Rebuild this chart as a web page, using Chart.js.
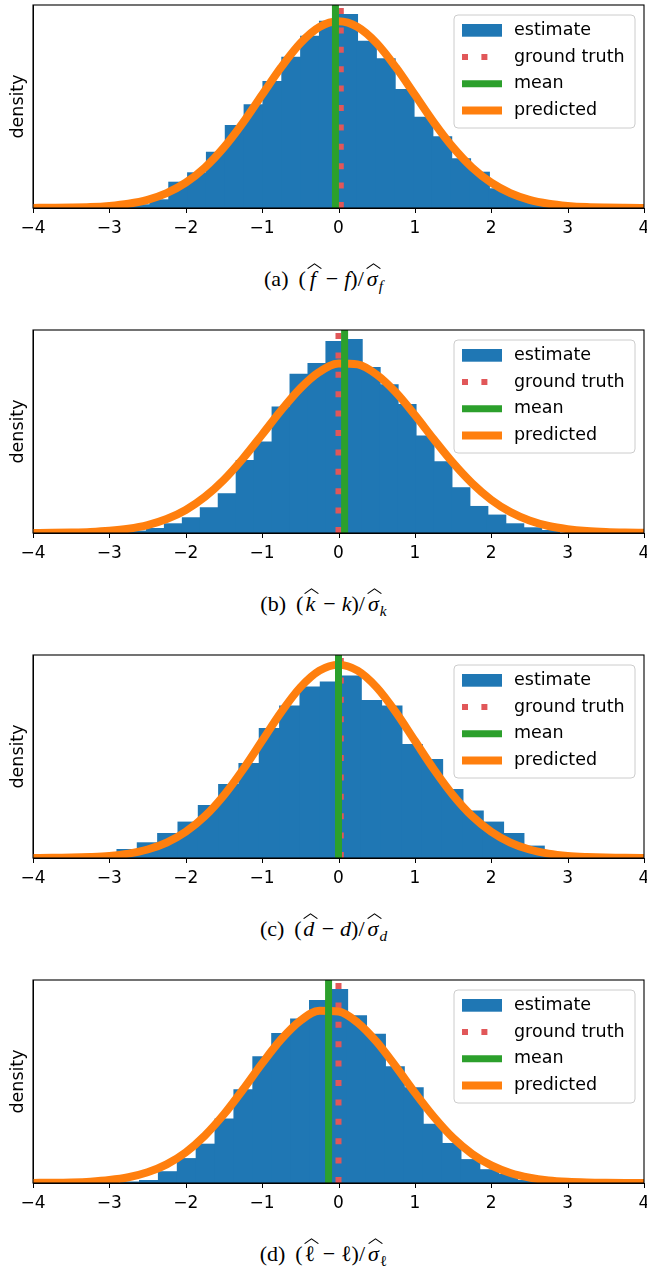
<!DOCTYPE html>
<html>
<head>
<meta charset="utf-8">
<script src="https://cdn.jsdelivr.net/npm/chart.js@4.4.1/dist/chart.umd.min.js"></script>
<style>
  body { margin:0; background:#fff; width:647px; height:1269px; position:relative; overflow:hidden; }
  .panel { position:absolute; left:0; width:647px; height:325px; }
  .panel canvas { position:absolute; left:0; top:0; }
  .cap { position:absolute; left:0; width:647px; top:266px; line-height:26px; text-align:center;
         font-family:'Liberation Serif','Times New Roman',serif; font-size:22px; color:#000; }
  .cap i { font-style:italic; }
  .lab { margin-right:10px; }
  .m { margin:0 6px; }
  .sl { margin-right:3px; }
  .h { position:relative; display:inline-block; }
  .w { width:14px; text-align:center; }
  .h::before { content:''; position:absolute; left:50%; top:-3px; width:15px; height:6px; margin-left:-6px;
               background:url("data:image/svg+xml;utf8,<svg xmlns='http://www.w3.org/2000/svg' width='15' height='6'><path d='M0.6 5.6 L7.5 0.8 L14.4 5.6' fill='none' stroke='black' stroke-width='1.1'/></svg>") no-repeat; }
  sub { font-size:0.7em; line-height:0; vertical-align:-0.3em; margin-left:1px; }
</style>
</head>
<body>
<div class="panel" style="top:0px"><canvas id="cA" width="652" height="240" style="width:652px;height:240px"></canvas>
  <div class="cap"><span class="lab">(a)</span>(<span class="h w"><i>f</i></span><span class="m">−</span><i>f</i>)<span class="sl">/</span><span class="h"><i>σ</i></span><sub><i>f</i></sub></div></div>
<div class="panel" style="top:325px"><canvas id="cB" width="652" height="240" style="width:652px;height:240px"></canvas>
  <div class="cap"><span class="lab">(b)</span>(<span class="h w"><i>k</i></span><span class="m">−</span><i>k</i>)<span class="sl">/</span><span class="h"><i>σ</i></span><sub><i>k</i></sub></div></div>
<div class="panel" style="top:650px"><canvas id="cC" width="652" height="240" style="width:652px;height:240px"></canvas>
  <div class="cap"><span class="lab">(c)</span>(<span class="h w"><i>d</i></span><span class="m">−</span><i>d</i>)<span class="sl">/</span><span class="h"><i>σ</i></span><sub><i>d</i></sub></div></div>
<div class="panel" style="top:975px"><canvas id="cD" width="652" height="240" style="width:652px;height:240px"></canvas>
  <div class="cap"><span class="lab">(d)</span>(<span class="h w">ℓ</span><span class="m">−</span>ℓ)<span class="sl">/</span><span class="h"><i>σ</i></span><sub>ℓ</sub></div></div>

<script>
// shared axis / curve sampling
const xTicks = [-4, -3, -2, -1, 0, 1, 2, 3, 4];
const curveX = [-4, -3.75, -3.5, -3.25, -3, -2.75, -2.5, -2.25, -2, -1.75, -1.5, -1.25, -1, -0.75, -0.5, -0.25, 0,
                0.25, 0.5, 0.75, 1, 1.25, 1.5, 1.75, 2, 2.25, 2.5, 2.75, 3, 3.25, 3.5, 3.75, 4];
const legendLabels = ['estimate', 'ground truth', 'mean', 'predicted'];

// (a) f
const edgesA = [-2.96, -2.713, -2.467, -2.22, -1.973, -1.727, -1.48, -1.233, -0.987, -0.74, -0.493, -0.247, 0,
                0.247, 0.493, 0.74, 0.987, 1.233, 1.48, 1.727, 1.973, 2.22, 2.467, 2.713, 2.96];
const estA = [1, 3, 8, 25.6, 35, 55.6, 82.3, 103, 126.3, 150.6, 171.6, 186.6,
              193.3, 166.6, 149, 118.3, 90.6, 71, 49, 35.6, 19, 11.6, 5, 2.3];
const predA = [0.1, 0.2, 0.4, 0.9, 2.1, 4.3, 8.2, 14.9, 25.3, 40.4, 60.6, 85.4, 113.2, 140.8, 164.7, 180.9, 186.6,
               180.9, 164.7, 140.8, 113.2, 85.4, 60.6, 40.4, 25.3, 14.9, 8.2, 4.3, 2.1, 0.9, 0.4, 0.2, 0.1];
const meanA = -0.04, truthA = 0.03;

// (b) k
const edgesB = [-2.747, -2.512, -2.277, -2.042, -1.807, -1.572, -1.337, -1.102, -0.867, -0.632, -0.397, -0.162, 0.073,
                0.308, 0.543, 0.778, 1.013, 1.248, 1.483, 1.718, 1.953, 2.188, 2.423, 2.658, 2.893];
const estB = [1.7, 4.3, 9, 15, 25, 39, 72.3, 90.7, 125.7, 158.3, 169, 191,
              193, 165, 147.7, 128, 96.7, 71, 45, 26.3, 17.7, 9, 5, 2.3];
const predB = [0.08, 0.2, 0.5, 1.05, 2.2, 4.3, 7.9, 13.9, 23, 36, 53.2, 74.4, 98.2, 122.5, 144.4, 160.8, 169.2,
               168.3, 158.1, 140.4, 117.7, 93.3, 69.9, 49.5, 33.1, 20.9, 12.5, 7, 3.8, 1.9, 0.9, 0.4, 0.17];
const meanB = 0.08, truthB = 0;

// (c) d
const edgesC = [-3.164, -2.898, -2.632, -2.366, -2.099, -1.833, -1.567, -1.301, -1.035, -0.769, -0.502, -0.236, 0.03,
                0.296, 0.562, 0.829, 1.095, 1.361, 1.627, 1.893, 2.159, 2.426, 2.692, 2.958, 3.224];
const estC = [4.3, 8.3, 15, 24.3, 35.7, 52.3, 73.3, 94.3, 129.3, 151.7, 170.7, 175.7,
              181.7, 157.3, 151.7, 113.3, 98.3, 68.3, 46.7, 35.7, 24.3, 11.7, 4.3, 1.7];
const predC = [0.06, 0.2, 0.4, 1.0, 2.1, 4.4, 8.5, 15.4, 26.2, 41.8, 62.8, 88.5, 117.2, 145.9, 170.6, 187.3, 193.3,
               187.3, 170.6, 145.9, 117.2, 88.5, 62.8, 41.8, 26.2, 15.4, 8.5, 4.4, 2.1, 1.0, 0.4, 0.2, 0.06];
const meanC = 0.0, truthC = 0.03;

// (d) l
const edgesD = [-2.85, -2.603, -2.356, -2.108, -1.861, -1.614, -1.367, -1.119, -0.872, -0.625, -0.377, -0.13,
                0.117, 0.365, 0.612, 0.859, 1.107, 1.354, 1.601, 1.848, 2.096, 2.343, 2.59, 2.838];
const estD = [0.8, 2.3, 11, 24, 38.3, 63.3, 92.3, 125, 148, 162.3, 180.7, 191.7,
              165.7, 147.3, 115, 94.3, 58, 39, 23, 13, 8.3, 2.3, 0.8];
const predD = [0.1, 0.25, 0.6, 1.36, 2.9, 5.7, 10.6, 18.5, 30.4, 47, 68.1, 92.7, 118.6, 142.5, 160.9, 170.7, 170,
               159.1, 139.9, 115.5, 89.6, 65.4, 44.7, 28.8, 17.4, 9.9, 5.3, 2.6, 1.24, 0.55, 0.23, 0.1, 0.04];
const meanD = -0.13, truthD = 0;

const BLUE = '#1f77b4', ORANGE = '#ff7f0e', GREEN = '#2ca02c', RED = '#e15759';
const FONT = 'DejaVu Sans';

// axes frame + outward tick marks drawn over the data (matplotlib spines)
const frame = {
  id: 'frame',
  afterDatasetsDraw(chart) {
    const { ctx, chartArea: a } = chart;
    const xs = chart.scales.x;
    ctx.save();
    ctx.strokeStyle = '#000';
    ctx.lineWidth = 1.1;
    ctx.strokeRect(a.left, a.top, a.right - a.left, a.bottom - a.top);
    ctx.lineWidth = 1;
    ctx.beginPath();
    xs.ticks.forEach(t => {
      const px = Math.round(xs.getPixelForValue(t.value)) + 0.5;
      ctx.moveTo(px, a.bottom);
      ctx.lineTo(px, a.bottom + 5);
    });
    ctx.stroke();
    ctx.restore();
  }
};

// legend box in the upper right of the axes
const legendBox = {
  id: 'legendBox',
  afterDraw(chart) {
    const { ctx, chartArea: a } = chart;
    const w = 181, h = 113, r = 4;
    const x0 = a.right - 9 - w, y0 = a.top + 10;
    ctx.save();
    ctx.beginPath();
    ctx.moveTo(x0 + r, y0);
    ctx.arcTo(x0 + w, y0, x0 + w, y0 + h, r);
    ctx.arcTo(x0 + w, y0 + h, x0, y0 + h, r);
    ctx.arcTo(x0, y0 + h, x0, y0, r);
    ctx.arcTo(x0, y0, x0 + w, y0, r);
    ctx.closePath();
    ctx.fillStyle = 'rgba(255,255,255,0.8)';
    ctx.fill();
    ctx.strokeStyle = '#cccccc';
    ctx.lineWidth = 1;
    ctx.stroke();

    legendLabels.forEach((lab, i) => {
      const ds = chart.data.datasets.find(d => d.label === lab);
      const cy = y0 + 15.3 + 26.7 * i;
      if (ds.type === 'bar') {
        ctx.fillStyle = ds.backgroundColor;
        ctx.fillRect(x0 + 8, cy - 6.3, 40, 12.7);
      } else {
        const dashed = !!ds.borderDash;
        ctx.beginPath();
        ctx.setLineDash(ds.borderDash || []);
        ctx.lineDashOffset = 0;
        ctx.lineCap = 'butt';
        ctx.strokeStyle = ds.borderColor;
        ctx.lineWidth = ds.borderWidth;
        ctx.moveTo(x0 + 8, cy);
        ctx.lineTo(x0 + (dashed ? 44 : 48), cy);
        ctx.stroke();
        ctx.setLineDash([]);
      }
      ctx.fillStyle = '#000';
      ctx.font = '17.5px "' + FONT + '"';
      ctx.textBaseline = 'middle';
      ctx.textAlign = 'left';
      ctx.fillText(lab, x0 + 60, cy);
    });
    ctx.restore();
  }
};

function drawPanel(id, edges, est, pred, mean, truth) {
  const centers = edges.slice(0, -1).map((e, i) => (e + edges[i + 1]) / 2);
  const ymax = 1.05 * Math.max(...est, ...pred);
  const ctx = document.getElementById(id).getContext('2d');
  new Chart(ctx, {
    type: 'bar',
    data: {
      datasets: [
        { type: 'line', label: 'mean', data: [{x: mean, y: 0}, {x: mean, y: ymax}],
          borderColor: GREEN, borderWidth: 7, pointRadius: 0, order: 0, clip: 0 },
        { type: 'line', label: 'predicted', data: curveX.map((x, i) => ({x: x, y: pred[i]})),
          borderColor: ORANGE, borderWidth: 8, pointRadius: 0, cubicInterpolationMode: 'monotone',
          borderJoinStyle: 'round', order: 1, clip: 0 },
        { type: 'line', label: 'ground truth', data: [{x: truth, y: 0}, {x: truth, y: ymax}],
          borderColor: RED, borderWidth: 6, borderDash: [6, 13.4], borderCapStyle: 'butt',
          pointRadius: 0, order: 2, clip: 0 },
        { type: 'bar', label: 'estimate', data: centers.map((x, i) => ({x: x, y: est[i]})),
          backgroundColor: BLUE, borderColor: BLUE, borderWidth: 0, inflateAmount: 0.7,
          barPercentage: 1, categoryPercentage: 1, order: 3 }
      ]
    },
    options: {
      animation: false, responsive: false, maintainAspectRatio: false,
      layout: { padding: { top: 5, right: 8, left: 0, bottom: 0 } },
      plugins: { legend: { display: false }, tooltip: { enabled: false } },
      scales: {
        x: {
          type: 'linear', min: -4, max: 4, offset: false,
          afterBuildTicks: s => { s.ticks = xTicks.map(v => ({ value: v })); },
          ticks: { autoSkip: false, maxRotation: 0, padding: 10, color: '#000',
                   font: { family: FONT, size: 17 },
                   callback: v => v < 0 ? '\u2212' + Math.abs(v) : String(v) },
          grid: { display: false, drawTicks: false },
          border: { display: true, color: '#000', width: 1 },
          afterFit: s => { s.height = 32; s.paddingLeft = 0; s.paddingRight = 0; }
        },
        y: {
          min: 0, max: ymax,
          ticks: { display: false },
          grid: { display: false, drawTicks: false },
          border: { display: true, color: '#000', width: 1 },
          title: { display: true, text: 'density', color: '#000', font: { family: FONT, size: 17.5 },
                   padding: { top: 8, bottom: 0 } },
          afterFit: s => { s.width = 33; }
        }
      }
    },
    plugins: [frame, legendBox]
  });
}

drawPanel('cA', edgesA, estA, predA, meanA, truthA);
drawPanel('cB', edgesB, estB, predB, meanB, truthB);
drawPanel('cC', edgesC, estC, predC, meanC, truthC);
drawPanel('cD', edgesD, estD, predD, meanD, truthD);
</script>
</body>
</html>
